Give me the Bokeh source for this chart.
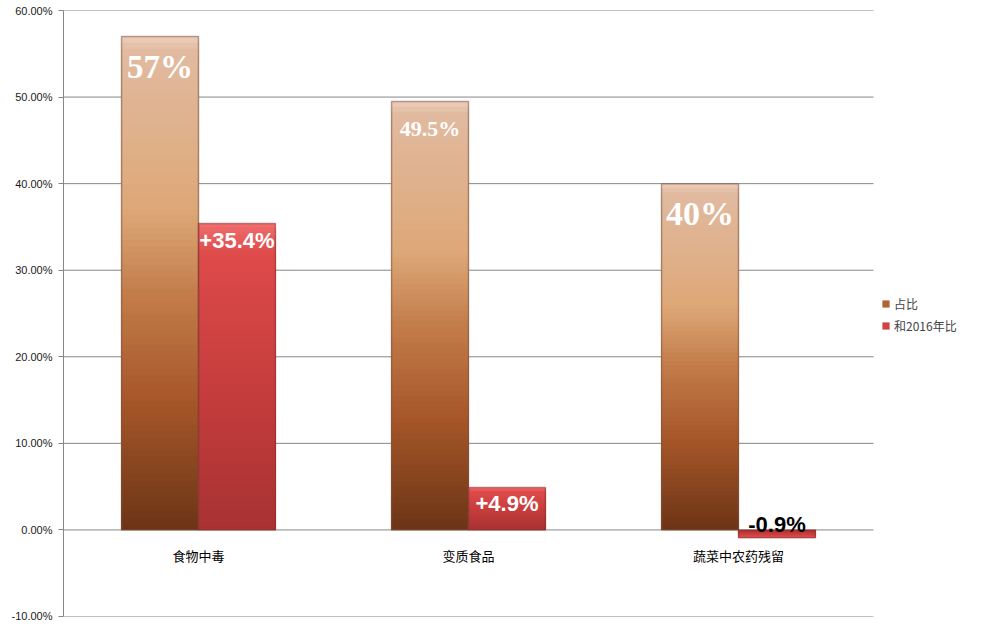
from bokeh.plotting import figure
from bokeh.models import ColumnDataSource, FixedTicker, NumeralTickFormatter, Legend, LegendItem
from bokeh.core.properties import value
from bokeh.embed import file_html
from bokeh.resources import INLINE

# ---- data ----
categories = ["食物中毒", "变质食品", "蔬菜中农药残留"]
share = [0.57, 0.495, 0.40]
change_2016 = [0.354, 0.049, -0.009]
share_labels = ["57%", "49.5%", "40%"]
change_labels = ["+35.4%", "+4.9%", "-0.9%"]
series_names = ["占比", "和2016年比"]
y_ticks = [-0.1, 0.0, 0.1, 0.2, 0.3, 0.4, 0.5, 0.6]

# ---- styles ----
BAR_W = 0.285
BRONZE = [(0.0, (108, 52, 22)), (0.27, (168, 88, 42)), (0.48, (195, 125, 75)),
          (0.65, (222, 168, 120)), (0.97, (225, 186, 160)), (1.0, (238, 205, 185))]
RED = [(0.0, (168, 50, 50)), (0.5, (200, 62, 62)), (0.9, (222, 74, 74)), (1.0, (240, 110, 110))]
N_SLICES = 80
FRAME_LEFT, FRAME_W, PLOT_W = 63, 903, 810   # pixel layout: plot area 810px, legend space to the right


def grad(stops, f):
    for (f0, c0), (f1, c1) in zip(stops[:-1], stops[1:]):
        if f <= f1:
            t = (f - f0) / (f1 - f0) if f1 > f0 else 0
            c = [int(round(a + (b - a) * t)) for a, b in zip(c0, c1)]
            return "#%02x%02x%02x" % tuple(c)
    return "#%02x%02x%02x" % stops[-1][1]


def gradient_source(centers, values, stops):
    # nested quads drawn tallest first, each covering from 0 to its level
    d = dict(left=[], right=[], bottom=[], top=[], color=[])
    for xc, v in zip(centers, values):
        for j in reversed(range(N_SLICES)):
            d["left"].append(xc - BAR_W / 2)
            d["right"].append(xc + BAR_W / 2)
            d["bottom"].append(0.0)
            d["top"].append(v * (j + 1) / N_SLICES)
            d["color"].append(grad(stops, (j + 0.5) / N_SLICES))
    return ColumnDataSource(d)


n_cat = len(categories)
x_cat = [i + 0.5 for i in range(n_cat)]
x_share = [x - BAR_W / 2 for x in x_cat]
x_change = [x + BAR_W / 2 for x in x_cat]
x_end = n_cat * FRAME_W / PLOT_W

p = figure(width=966, height=621, x_range=(0, x_end), y_range=(-0.1, 0.6),
           output_backend="svg", toolbar_location=None,
           min_border_left=FRAME_LEFT, min_border_right=0, min_border_top=10, min_border_bottom=5)
p.outline_line_color = None
p.xaxis.visible = False
p.xgrid.visible = False
p.ygrid.visible = False

yax = p.yaxis[0]
yax.ticker = FixedTicker(ticks=y_ticks)
yax.formatter = NumeralTickFormatter(format="0.00%")
yax.axis_line_color = "#868686"
yax.major_tick_line_color = "#868686"
yax.major_tick_out = 5
yax.major_tick_in = 0
yax.minor_tick_line_color = None
yax.major_label_standoff = 6
yax.major_label_text_font = "Liberation Sans"
yax.major_label_text_font_size = "11px"
yax.major_label_text_color = "#1a1a1a"

# horizontal gridlines across the category area only
p.segment(x0=[0] * len(y_ticks), x1=[n_cat] * len(y_ticks), y0=y_ticks, y1=y_ticks,
          line_color="#868686", line_width=1)

# gradient bars
rs = p.quad(left="left", right="right", bottom="bottom", top="top", fill_color="color",
            line_color=None, source=gradient_source(x_share, share, BRONZE))
rc = p.quad(left="left", right="right", bottom="bottom", top="top", fill_color="color",
            line_color=None, source=gradient_source(x_change, change_2016, RED))

# bar outlines (bevel edge)
out_src_s = ColumnDataSource(dict(left=[x - BAR_W / 2 for x in x_share], right=[x + BAR_W / 2 for x in x_share],
                                  bottom=[0] * 3, top=share))
out_src_c = ColumnDataSource(dict(left=[x - BAR_W / 2 for x in x_change], right=[x + BAR_W / 2 for x in x_change],
                                  bottom=[0] * 3, top=change_2016))
p.quad(left="left", right="right", bottom="bottom", top="top", fill_color=None,
       line_color="#7a5544", line_alpha=0.55, line_width=1.5, source=out_src_s)
p.quad(left="left", right="right", bottom="bottom", top="top", fill_color=None,
       line_color="#8a3030", line_alpha=0.55, line_width=1.5, source=out_src_c)

# category labels
p.text(x=x_cat, y=[0] * 3, text=categories, text_align="center", text_baseline="middle",
       y_offset=26, text_font=value("Noto Sans CJK SC"), text_font_size="13px", text_color="#000000")

# share labels
lab_s = ColumnDataSource(dict(x=x_share, y=share, text=share_labels,
                              size=["33px", "22px", "34px"], off=[31, 27, 30]))
p.text(x="x", y="y", text="text", source=lab_s, text_align="center", text_baseline="middle",
       y_offset="off", text_font=value("Liberation Serif"), text_font_style="bold",
       text_font_size="size", text_color="white")

lab_c = ColumnDataSource(dict(x=x_change, y=change_2016, text=change_labels,
                              color=["white", "white", "black"], off=[17, 16, -13]))
p.text(x="x", y="y", text="text", source=lab_c, text_align="center", text_baseline="middle",
       y_offset="off", text_font=value("Liberation Sans"), text_font_style="bold",
       text_font_size="22px", text_color="color")

# legend (glyph colour taken from a mid slice of each gradient)
legend = Legend(items=[LegendItem(label=series_names[0], renderers=[rs], index=N_SLICES * 2 // 3),
                       LegendItem(label=series_names[1], renderers=[rc], index=N_SLICES // 3)],
                location=(818, 281), padding=0, margin=0, spacing=2,
                glyph_width=9, glyph_height=9, label_standoff=4, label_height=20,
                label_text_font="Noto Sans CJK SC", label_text_font_size="12px",
                border_line_color=None, background_fill_alpha=0)
p.add_layout(legend, "center")

open("out.html", "w").write(file_html(p, INLINE))
